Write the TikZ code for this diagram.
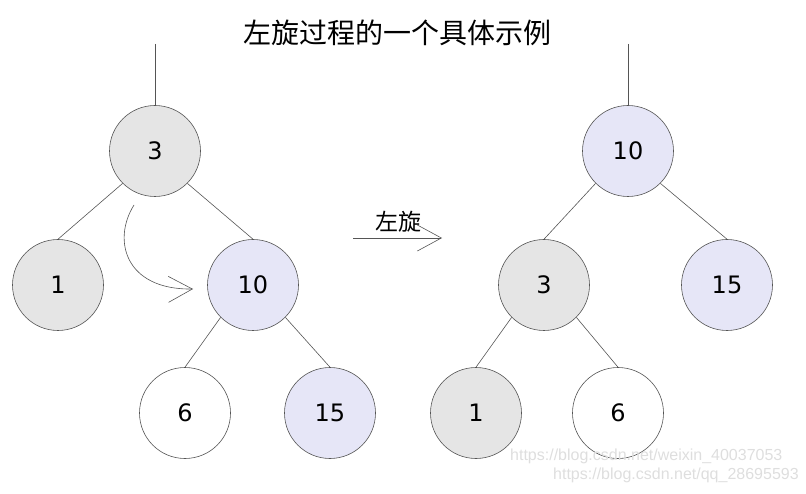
\documentclass[tikz,border=0pt]{standalone}
\usepackage{fontspec}
\setmainfont{DejaVu Sans}
\newfontfamily\cjk{Noto Sans CJK SC}
\newfontfamily\wmfont{Liberation Sans}
\usepackage{tikz}
\usetikzlibrary{arrows.meta}
\definecolor{oldgray}{HTML}{E5E5E5}
\definecolor{newblue}{HTML}{E6E6F7}
\definecolor{rimgray}{HTML}{555555}
\tikzstyle{tnode}=[circle, draw=rimgray, line width=0.6pt, minimum size=91pt, inner sep=0pt, font=\fontsize{24}{24}\selectfont]
\tikzstyle{tnode_gray}=[tnode, fill=oldgray]
\tikzstyle{tnode_blue}=[tnode, fill=newblue]
\tikzstyle{tnode_white}=[tnode, fill=white]
\tikzstyle{tedge}=[draw=rimgray, line width=0.6pt]
\tikzstyle{barb}=[-{Straight Barb[length=24pt,width=26pt]}]

\begin{document}
\begin{tikzpicture}[x=1pt, y=-1pt]
\useasboundingbox (0,0) rectangle (806,494);
\node[font=\cjk\fontsize{28}{28}\selectfont] (title) at (397,33) {左旋过程的一个具体示例};
% before the rotation
\coordinate (lstem) at (155,44);
\node[tnode_gray] (l3) at (155,151) {3};
\node[tnode_gray] (l1) at (58,285) {1};
\node[tnode_blue] (l10) at (253,285) {10};
\node[tnode_white] (l6) at (185,413) {6};
\node[tnode_blue] (l15) at (330,413) {15};
\draw[tedge](lstem) -- (l3.north);
\draw[tedge](l3.south west) -- (l1.north);
\draw[tedge](l3.south east) -- (l10.north);
\draw[tedge](l10.south west) -- (l6.north);
\draw[tedge](l10.south east) -- (l15.north);
\coordinate (cfrom) at (134,205);
\coordinate (cto) at (193,289);
\draw[tedge, barb](cfrom) .. controls (112,240) and (125,290) .. (cto);
% the step
\coordinate (sfrom) at (353,238);
\coordinate (sto) at (442,238);
\draw[tedge, barb](sfrom) -- (sto);
\node[font=\cjk\fontsize{23}{23}\selectfont] (step_label) at (398,222) {左旋};
% after the rotation
\coordinate (rstem) at (628,44);
\node[tnode_blue] (r10) at (628,151) {10};
\node[tnode_gray] (r3) at (544,285) {3};
\node[tnode_blue] (r15) at (727,285) {15};
\node[tnode_gray] (r1) at (476,413) {1};
\node[tnode_white] (r6) at (618,413) {6};
\draw[tedge](rstem) -- (r10.north);
\draw[tedge](r10.south west) -- (r3.north);
\draw[tedge](r10.south east) -- (r15.north);
\draw[tedge](r3.south west) -- (r1.north);
\draw[tedge](r3.south east) -- (r6.north);
\node[anchor=west, text=black!13, font=\wmfont\fontsize{16}{16}\selectfont, inner sep=0pt] (wm1) at (510,456) {https://blog.csdn.net/weixin\_40037053};
\node[anchor=west, text=black!13, font=\wmfont\fontsize{16}{16}\selectfont, inner sep=0pt] (wm2) at (553,475) {https://blog.csdn.net/qq\_28695593};
\end{tikzpicture}
\end{document}
